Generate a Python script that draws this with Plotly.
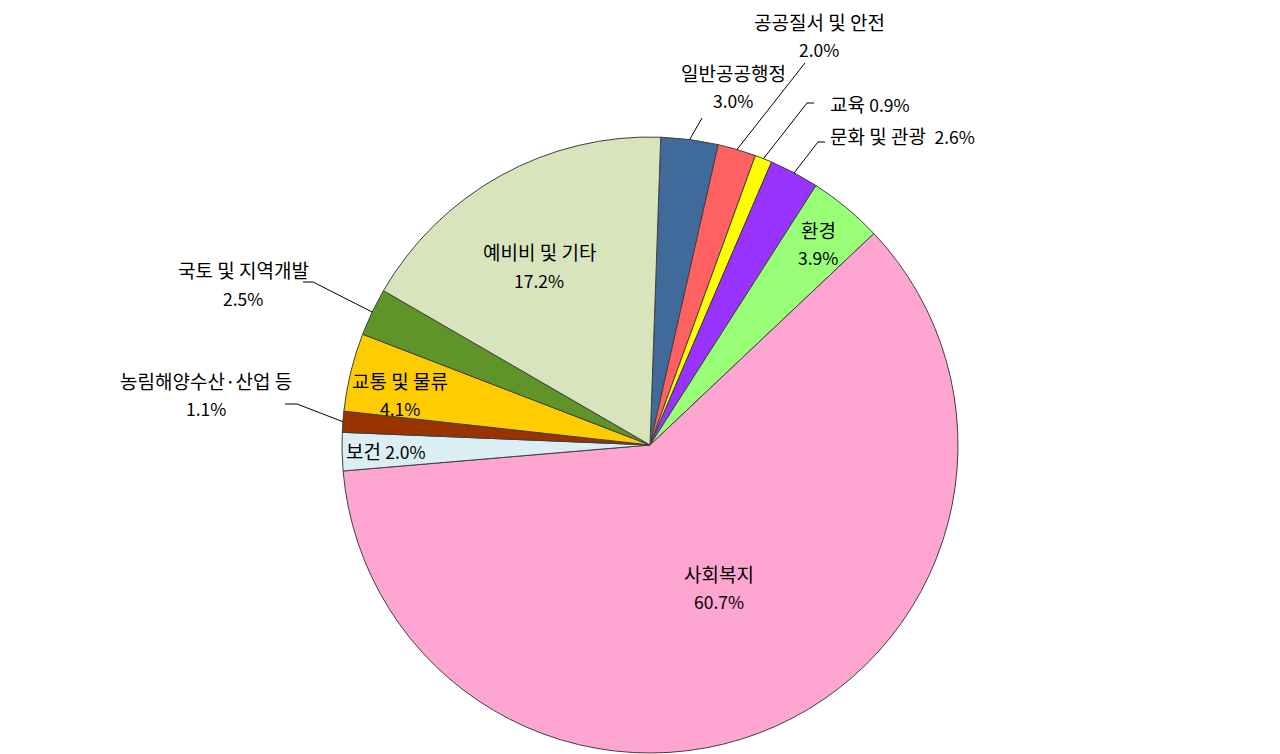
import math
import plotly.graph_objects as go

W, H = 1280, 754
OFF = 8  # page body margin, positions below are in screen pixels

# data, clockwise from 12 o'clock
labels = ['일반공공행정', '공공질서 및 안전', '교육', '문화 및 관광', '환경', '사회복지',
          '보건', '농림해양수산·산업 등', '교통 및 물류', '국토 및 지역개발', '예비비 및 기타']
shares = [3.0, 2.0, 0.9, 2.6, 3.9, 60.7, 2.0, 1.1, 4.1, 2.5, 17.2]
colors = ['#3F6A9A', '#FF6161', '#FFFF00', '#9933FF', '#99FF77', '#FFA5D2',
          '#DBEEF3', '#993300', '#FFCC00', '#5F9428', '#D8E4BC']

ROTATION = 2
CX, CY, R = 650, 445, 308  # pie centre / radius in screen pixels


def px(x, y):
    return (x - OFF) / W, (H - (y - OFF)) / H


def mid_angle(i):
    start = ROTATION + sum(shares[:i]) * 3.6
    return math.radians(start + shares[i] * 1.8)


def edge_point(i):
    a = mid_angle(i)
    return CX + R * math.sin(a), CY - R * math.cos(a)


x0, y0 = px(CX - R, CY + R)
x1, y1 = px(CX + R, CY - R)
fig = go.Figure(go.Pie(
    labels=labels,
    values=shares,
    sort=False,
    direction='clockwise',
    rotation=ROTATION,
    textinfo='none',
    hoverinfo='label+percent',
    marker=dict(colors=colors, line=dict(color='#404040', width=1)),
    domain=dict(x=[x0, x1], y=[y0, y1]),
    showlegend=False,
))

# label text positions (screen pixel centre of first line) and number of lines
label_pos = {
    '일반공공행정': (733, 73, 2),
    '공공질서 및 안전': (819, 21, 2),
    '교육': (870, 104, 1),
    '문화 및 관광': (902, 135, 1),
    '환경': (818, 229, 2),
    '사회복지': (719, 573, 2),
    '보건': (386, 451, 1),
    '농림해양수산·산업 등': (206, 380, 2),
    '교통 및 물류': (400, 380, 2),
    '국토 및 지역개발': (243, 270, 2),
    '예비비 및 기타': (539, 252, 2),
}
# leader line elbows (screen pixels) after the slice edge point
leaders = {
    '일반공공행정': [(702, 118)],
    '공공질서 및 안전': [(805, 63)],
    '교육': [(807, 103), (814, 103)],
    '문화 및 관광': [(818, 142), (825, 142)],
    '농림해양수산·산업 등': [(297, 404), (285, 404)],
    '국토 및 지역개발': [(313, 282), (303, 282)],
}

font = dict(family='Noto Sans CJK KR, Noto Sans, sans-serif', size=19, color='#000000')
pct_span = '<span style="font-size:17.5px">{}</span>'
annotations = []
for i, name in enumerate(labels):
    x, y, lines = label_pos[name]
    pct = pct_span.format(f'{shares[i]:.1f}%')
    if lines == 2:
        items = [(name, y), (pct, y + 28)]
    elif name == '문화 및 관광':
        items = [(name + '  ' + pct, y)]
    else:
        items = [(name + ' ' + pct, y)]
    for txt, ty in items:
        ax_, ay_ = px(x, ty)
        annotations.append(dict(x=ax_, y=ay_, xref='paper', yref='paper', text=txt,
                                showarrow=False, font=font, xanchor='center', yanchor='middle'))

shapes = []
for name, pts in leaders.items():
    i = labels.index(name)
    path_pts = [edge_point(i)] + pts
    path = 'M ' + ' L '.join(f'{px(a, b)[0]:.5f},{px(a, b)[1]:.5f}' for a, b in path_pts)
    shapes.append(dict(type='path', path=path, xref='paper', yref='paper',
                       line=dict(color='#000000', width=1)))

fig.update_layout(
    width=W, height=H,
    margin=dict(l=0, r=0, t=0, b=0),
    paper_bgcolor='white',
    plot_bgcolor='white',
    annotations=annotations,
    shapes=shapes,
)

fig.write_html('out.html')
